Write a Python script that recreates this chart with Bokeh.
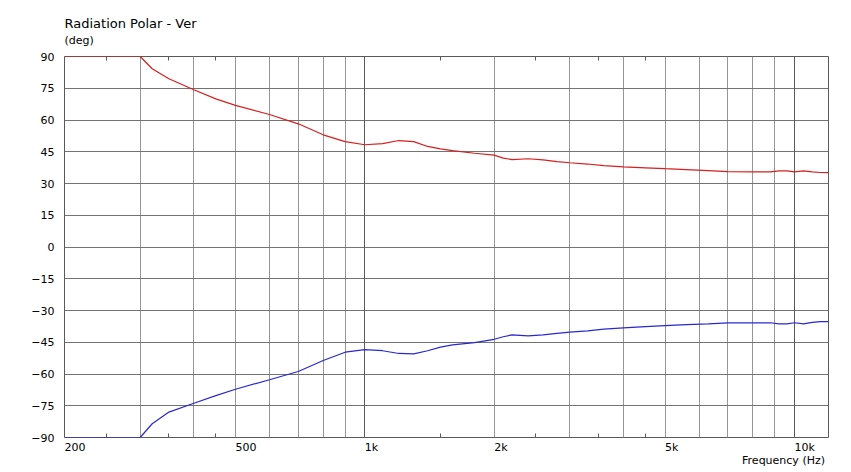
from bokeh.plotting import figure
from bokeh.models import FixedTicker, Grid, LogAxis, Title
from bokeh.embed import file_html
from bokeh.resources import INLINE

# ---- data ----
freq = [200, 250, 300, 320, 350, 400, 450, 500, 600, 700, 800, 900, 1000, 1100, 1200, 1300,
        1400, 1500, 1600, 1800, 2000, 2100, 2200, 2400, 2600, 2800, 3000, 3300, 3600, 4000,
        4500, 5000, 5600, 6300, 7000, 8000, 8800, 9200, 9600, 10000, 10500, 11000, 11500, 12000]
upper = [90, 90, 90, 84.2, 79.5, 74.3, 70.0, 66.9, 62.6, 58.2, 53.0, 49.8, 48.3, 48.8, 50.3, 49.8,
         47.5, 46.4, 45.5, 44.3, 43.4, 42.0, 41.3, 41.7, 41.2, 40.3, 39.8, 39.2, 38.4, 37.9,
         37.4, 37.0, 36.6, 36.1, 35.6, 35.5, 35.5, 36.0, 36.0, 35.5, 36.0, 35.5, 35.2, 35.1]
lower = [-90, -90, -90, -83.5, -78.0, -73.8, -70.2, -67.2, -62.7, -58.8, -53.6, -49.7, -48.5, -49.0, -50.3, -50.5,
         -49.0, -47.3, -46.2, -45.2, -43.6, -42.4, -41.5, -42.0, -41.5, -40.8, -40.2, -39.6, -38.8, -38.2,
         -37.6, -37.1, -36.7, -36.3, -35.8, -35.8, -35.8, -36.3, -36.3, -35.8, -36.3, -35.6, -35.3, -35.3]

x_start, x_end = 200, 12000
y_start, y_end = -90, 90
y_ticks = list(range(-90, 91, 15))
xtick_vals = [200, 500, 1000, 2000, 5000, 10000]
xtick_labels = ["200", "500", "1k", "2k", "5k", "10k"]
minor_grid = [300, 400, 500, 600, 700, 800, 900, 2000, 3000, 4000, 5000, 6000, 7000, 8000, 9000]
decade_grid = [1000, 10000]
edge_ticks = [250, 350, 450, 1500, 2500, 3500, 4500]

FONT = "DejaVu Sans"
EDGE = "#5a5a5a"

p = figure(width=851, height=472, x_axis_type="log", x_range=(x_start, x_end),
           y_range=(y_start, y_end), output_backend="svg", toolbar_location=None,
           min_border_left=64, min_border_right=23, min_border_top=56, min_border_bottom=35)
p.background_fill_color = "white"
p.border_fill_color = "white"
p.outline_line_color = EDGE
p.outline_line_width = 1

# bottom x axis: labels left-aligned at their gridline, small inner ticks
xa = p.xaxis[0]
xa.ticker = FixedTicker(ticks=xtick_vals, minor_ticks=edge_ticks)
xa.major_label_overrides = {v: t for v, t in zip(xtick_vals, xtick_labels)}
xa.major_tick_in = 0
xa.major_tick_out = 0
xa.minor_tick_in = 4
xa.minor_tick_out = 0
xa.minor_tick_line_color = EDGE
xa.axis_line_color = None
xa.major_label_orientation = -0.0001   # tiny negative angle -> labels anchored on their left
xa.major_label_standoff = 10
xa.major_label_text_font = FONT
xa.major_label_text_font_size = "11px"
xa.major_label_text_color = "black"

# top axis: only small inner ticks
top = LogAxis(ticker=FixedTicker(ticks=[], minor_ticks=edge_ticks), major_tick_in=0, major_tick_out=0,
              minor_tick_in=4, minor_tick_out=0, minor_tick_line_color=EDGE, axis_line_color=None,
              major_label_standoff=0, major_label_text_font_size="0px")
p.add_layout(top, "above")

ya = p.yaxis[0]
ya.ticker = FixedTicker(ticks=y_ticks, minor_ticks=[])
ya.major_tick_in = 0
ya.major_tick_out = 0
ya.axis_line_color = None
ya.minor_tick_line_color = None
ya.major_label_standoff = 10
ya.major_label_text_font = FONT
ya.major_label_text_font_size = "11px"
ya.major_label_text_color = "black"

# grids
p.xgrid.ticker = FixedTicker(ticks=minor_grid, minor_ticks=[])
p.xgrid.grid_line_color = "#969696"
p.xgrid.grid_line_width = 1
p.add_layout(Grid(dimension=0, ticker=FixedTicker(ticks=decade_grid, minor_ticks=[]),
                  grid_line_color=EDGE, grid_line_width=1))
p.ygrid.ticker = FixedTicker(ticks=y_ticks[1:-1], minor_ticks=[])
p.ygrid.grid_line_color = "#737373"
p.ygrid.grid_line_width = 1

# curves
p.line(freq, upper, line_color="#d81e1e", line_width=1.2)
p.line(freq, lower, line_color="#2828d2", line_width=1.2)

# titles (stacked above the top axis)
p.add_layout(Title(text="(deg)", align="left", text_font=FONT, text_font_size="11px",
                   text_font_style="normal", text_color="black", standoff=20), "above")
p.add_layout(Title(text="Radiation Polar - Ver", align="left", text_font=FONT, text_font_size="13px",
                   text_font_style="normal", text_color="black", standoff=-18), "above")
# x axis caption, right-aligned under the frame
p.add_layout(Title(text="Frequency  (Hz)", align="right", vertical_align="top", text_font=FONT,
                   text_font_size="11px", text_font_style="normal", text_color="black",
                   standoff=-19), "below")

open("out.html", "w").write(file_html(p, INLINE))
